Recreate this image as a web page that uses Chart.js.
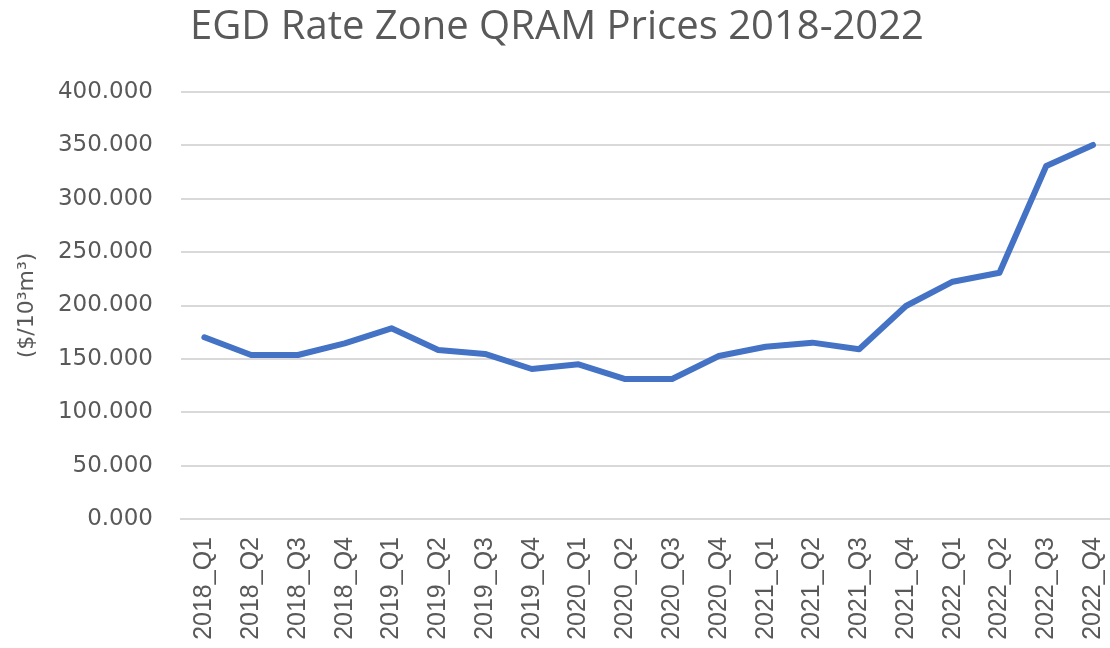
<!DOCTYPE html>
<html>
<head>
<meta charset="utf-8">
<title>EGD Rate Zone QRAM Prices 2018-2022</title>
<script src="https://cdn.jsdelivr.net/npm/chart.js@4"></script>
<style>
  html, body { margin: 0; padding: 0; background: #fff; overflow: hidden; }
  #wrap { position: relative; width: 1141px; height: 648px; }
</style>
</head>
<body>
<div id="wrap"><canvas id="qramChart"></canvas></div>
<script>
// Trimestres
const quarters = [
  '2018_Q1', '2018_Q2', '2018_Q3', '2018_Q4',
  '2019_Q1', '2019_Q2', '2019_Q3', '2019_Q4',
  '2020_Q1', '2020_Q2', '2020_Q3', '2020_Q4',
  '2021_Q1', '2021_Q2', '2021_Q3', '2021_Q4',
  '2022_Q1', '2022_Q2', '2022_Q3', '2022_Q4'
];

// Preços QRAM ($/10³m³)
const prices = [
  170.2, 153.6, 153.6, 164.6,
  178.6, 158.3, 154.6, 140.5,
  144.9, 131.1, 131.1, 152.7,
  161.4, 165.2, 159.0, 199.5,
  222.3, 230.7, 330.7, 350.4
];

// Eixo Y
const yMin = 0;
const yMax = 400;
const yStep = 50;

const grey = '#595959';
const gridGrey = '#d9d9d9';

// O canvas é mais largo que a janela; centralizar o título na parte visível
const shiftTitle = {
  id: 'shiftTitle',
  afterLayout(chart) {
    if (chart.titleBlock) chart.titleBlock.right = chart.titleBlock.left + 1114;
  }
};

let ctx = document.getElementById('qramChart').getContext('2d');
let qramChart = new Chart(ctx, {
  type: 'line',
  data: {
    labels: quarters,
    datasets: [{
      label: 'QRAM',
      data: prices,
      borderColor: '#4472c4',
      borderWidth: 6,
      borderJoinStyle: 'round',
      borderCapStyle: 'round',
      pointRadius: 0,
      tension: 0,
      fill: false
    }]
  },
  plugins: [shiftTitle],
  options: {
    responsive: true,
    maintainAspectRatio: false,
    animation: false,
    plugins: {
      legend: { display: false },
      tooltip: { enabled: false },
      title: {
        display: true,
        text: 'EGD Rate Zone QRAM Prices 2018-2022',
        color: grey,
        font: { family: 'Open Sans', size: 40, weight: 'normal' },
        padding: { top: 4, bottom: 40 }
      }
    },
    scales: {
      x: {
        offset: true,
        grid: { display: false, drawTicks: false },
        border: { display: true, color: gridGrey, width: 2 },
        ticks: {
          color: grey,
          font: { family: 'Liberation Sans', size: 25 },
          minRotation: 90,
          maxRotation: 90,
          autoSkip: false,
          padding: 18
        },
        afterFit: (s) => { s.height = 129; }
      },
      y: {
        min: yMin,
        max: yMax,
        grid: { color: gridGrey, lineWidth: 2, drawTicks: false },
        border: { display: false },
        ticks: {
          stepSize: yStep,
          color: grey,
          font: { family: 'DejaVu Sans', size: 23 },
          padding: 28,
          callback: (v) => v.toFixed(3)
        },
        title: {
          display: true,
          text: '($/10³m³)',
          color: grey,
          font: { family: 'DejaVu Sans', size: 22 },
          padding: { top: 14, bottom: 0 }
        },
        afterFit: (s) => { s.width = 181; }
      }
    }
  }
});
</script>
</body>
</html>
